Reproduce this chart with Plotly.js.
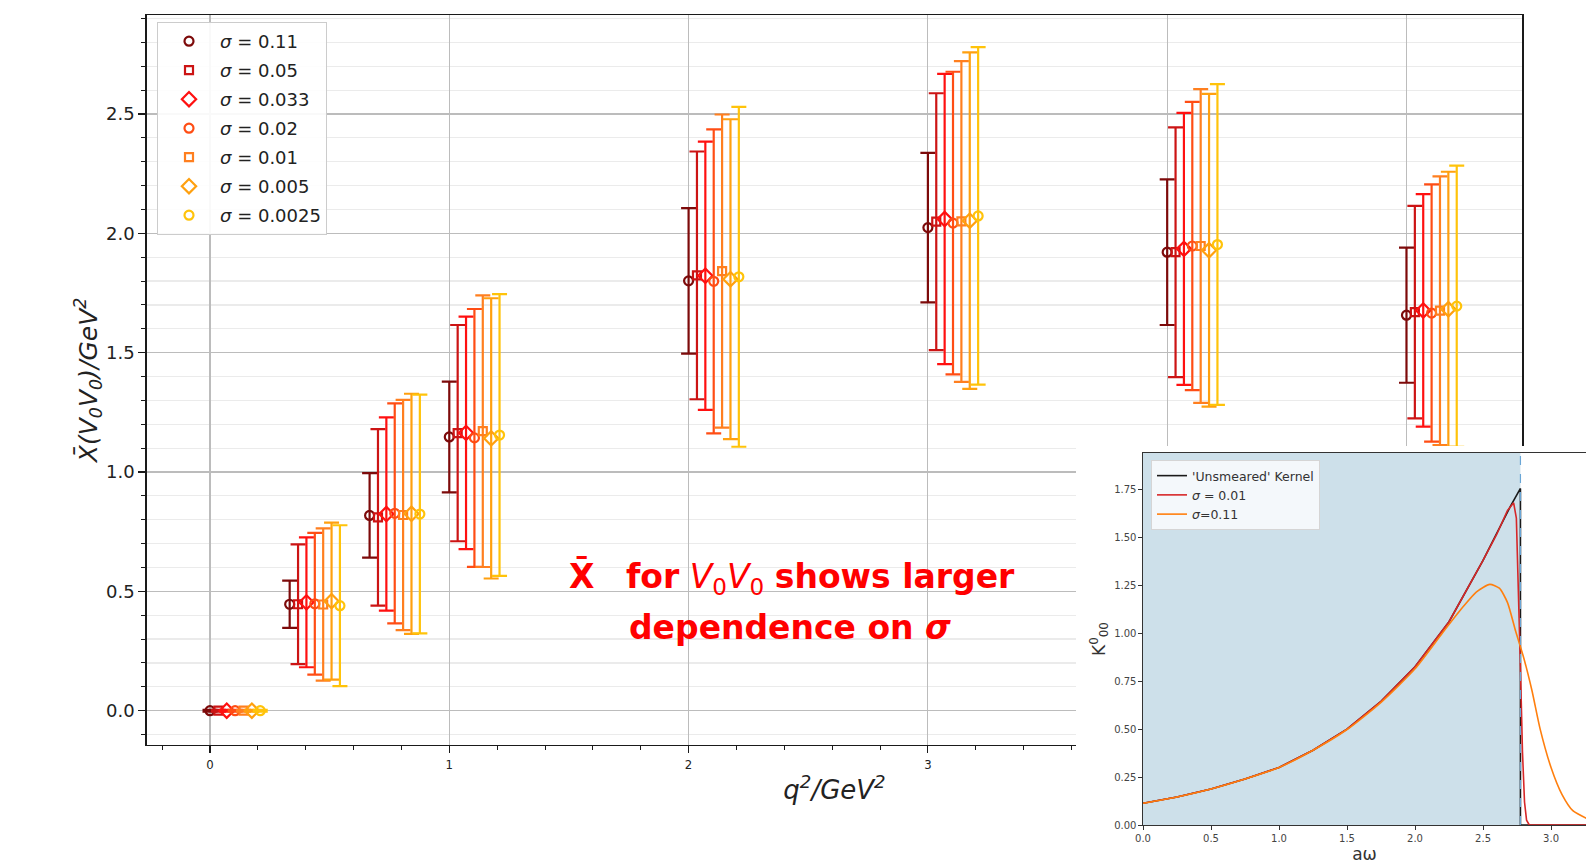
<!DOCTYPE html>
<html><head><meta charset="utf-8">
<script src="https://cdn.plot.ly/plotly-3.0.1.min.js"></script>
<style>html,body{margin:0;padding:0;background:#fff}#chart{width:1586px;height:865px}</style>
</head><body><div id="chart"></div>
<script>
// ---------------- main chart data ----------------
const q2 = [0, 0.333, 0.667, 1, 2, 3, 4, 5];
const sigmaLabels = ['0.11', '0.05', '0.033', '0.02', '0.01', '0.005', '0.0025'];

const xbar_s011   = [0.000, 0.446, 0.818, 1.147, 1.801, 2.024, 1.921, 1.657];
const err_s011    = [0.004, 0.099, 0.177, 0.232, 0.305, 0.313, 0.305, 0.283];
const xbar_s005   = [0.000, 0.446, 0.810, 1.163, 1.824, 2.049, 1.921, 1.670];
const err_s005    = [0.004, 0.251, 0.370, 0.453, 0.519, 0.538, 0.523, 0.445];
const xbar_s0033  = [0.000, 0.454, 0.824, 1.164, 1.822, 2.060, 1.935, 1.677];
const err_s0033   = [0.004, 0.272, 0.405, 0.487, 0.562, 0.608, 0.570, 0.487];
const xbar_s002   = [0.000, 0.448, 0.827, 1.143, 1.799, 2.043, 1.947, 1.666];
const err_s002    = [0.004, 0.297, 0.461, 0.540, 0.637, 0.634, 0.604, 0.539];
const xbar_s001   = [0.000, 0.445, 0.820, 1.171, 1.842, 2.050, 1.947, 1.676];
const err_s001    = [0.004, 0.319, 0.482, 0.569, 0.656, 0.672, 0.657, 0.563];
const xbar_s0005  = [0.000, 0.459, 0.825, 1.141, 1.808, 2.053, 1.929, 1.682];
const err_s0005   = [0.004, 0.329, 0.503, 0.587, 0.670, 0.705, 0.655, 0.576];
const xbar_s00025 = [0.000, 0.440, 0.824, 1.155, 1.818, 2.073, 1.953, 1.695];
const err_s00025  = [0.004, 0.337, 0.500, 0.590, 0.712, 0.707, 0.672, 0.589];

// ---------------- inset (kernel) data ----------------
const kernelCut = 2.775;
const awUnsmeared = [0, 0.25, 0.5, 0.75, 1.0, 1.25, 1.5, 1.75, 2.0, 2.25, 2.5, 2.6, 2.7, 2.775, 2.775, 3.26];
const kUnsmeared  = [0.113, 0.146, 0.188, 0.240, 0.300, 0.390, 0.500, 0.645, 0.825, 1.060, 1.380, 1.520, 1.660, 1.755, 0, 0];
const awS001 = [0, 0.25, 0.5, 0.75, 1.0, 1.25, 1.5, 1.75, 2.0, 2.25, 2.5, 2.6, 2.68, 2.725, 2.745, 2.76, 2.775, 2.79, 2.805, 2.82, 2.84, 3.26];
const kS001  = [0.113, 0.146, 0.188, 0.240, 0.300, 0.390, 0.500, 0.645, 0.825, 1.060, 1.380, 1.515, 1.640, 1.680, 1.600, 1.250, 0.820, 0.380, 0.120, 0.025, 0, 0];
const awS011 = [0, 0.25, 0.5, 0.75, 1.0, 1.25, 1.5, 1.75, 2.0, 2.2, 2.35, 2.45, 2.55, 2.62, 2.68, 2.74, 2.80, 2.86, 2.92, 3.0, 3.08, 3.16, 3.26];
const kS011  = [0.113, 0.146, 0.188, 0.240, 0.300, 0.390, 0.498, 0.640, 0.815, 1.000, 1.135, 1.215, 1.255, 1.235, 1.160, 1.010, 0.870, 0.700, 0.500, 0.300, 0.160, 0.075, 0.035];

// ---------------- styling ----------------
const W = 1586, H = 865;
const px = v => v / W;
const py = v => 1 - v / H;
const colors = ['#7d0a0a', '#cc1414', '#ff1010', '#ff4d14', '#ff7f1f', '#ffa00f', '#ffc30a'];
const symbols = ['circle-open', 'square-open', 'diamond-open', 'circle-open', 'square-open', 'diamond-open', 'circle-open'];
const sizes = [9, 8, 11, 9, 8, 11, 9];
const dodge = 0.035;

const seriesVals = [xbar_s011, xbar_s005, xbar_s0033, xbar_s002, xbar_s001, xbar_s0005, xbar_s00025];
const seriesErrs = [err_s011, err_s005, err_s0033, err_s002, err_s001, err_s0005, err_s00025];

const traces = [];
seriesVals.forEach((vals, i) => {
  traces.push({
    type: 'scatter', mode: 'markers',
    x: q2.map(q => q + i * dodge), y: vals,
    name: '<i>σ</i> = ' + sigmaLabels[i],
    legendgroup: 'g' + i,
    marker: {symbol: symbols[i], size: sizes[i], color: colors[i], line: {color: colors[i], width: 2.2}},
    error_y: {type: 'data', array: seriesErrs[i], visible: true, color: colors[i], thickness: 2.2, width: 7.5},
    xaxis: 'x', yaxis: 'y', hoverinfo: 'skip'
  });
});
// white cover subplot (blank area of the inset picture)
traces.push({type: 'scatter', mode: 'markers', x: [null], y: [null], xaxis: 'x2', yaxis: 'y2', showlegend: false, hoverinfo: 'skip'});
// inset curves
traces.push({type: 'scatter', mode: 'lines', x: awUnsmeared, y: kUnsmeared, name: "'Unsmeared' Kernel",
  line: {color: '#1a1a1a', width: 1.6}, xaxis: 'x3', yaxis: 'y3', legend: 'legend2', hoverinfo: 'skip'});
traces.push({type: 'scatter', mode: 'lines', x: awS001, y: kS001, name: '<i>σ</i> = 0.01',
  line: {color: '#d62728', width: 1.6}, xaxis: 'x3', yaxis: 'y3', legend: 'legend2', hoverinfo: 'skip'});
traces.push({type: 'scatter', mode: 'lines', x: awS011, y: kS011, name: '<i>σ</i>=0.11',
  line: {color: '#ff7f0e', width: 1.6, shape: 'spline', smoothing: 0.6}, xaxis: 'x3', yaxis: 'y3', legend: 'legend2', hoverinfo: 'skip'});

const axisDark = '#1a1a1a';
const layout = {
  width: W, height: H,
  margin: {l: 0, r: 0, t: 0, b: 0},
  paper_bgcolor: '#ffffff', plot_bgcolor: '#ffffff',
  showlegend: true,
  font: {family: 'DejaVu Sans, sans-serif', color: '#222'},
  xaxis: {
    domain: [px(146.7), px(1522.3)], range: [-0.2645, 5.484], anchor: 'y',
    tick0: 0, dtick: 1, tickformat: 'd',
    showgrid: true, gridcolor: '#bcbcbc', gridwidth: 1.2, zeroline: false,
    showline: true, linecolor: axisDark, linewidth: 1.5, mirror: true,
    ticks: 'outside', ticklen: 7, tickwidth: 1.2, tickcolor: axisDark,
    minor: {tick0: 0, dtick: 0.2, ticks: 'outside', ticklen: 4, tickwidth: 1, tickcolor: axisDark, showgrid: false},
    tickfont: {family: 'DejaVu Sans Condensed, DejaVu Sans, sans-serif', size: 13, color: '#222'},
    title: {text: 'q<sup>2</sup>/GeV<sup>2</sup>', font: {family: 'DejaVu Sans, sans-serif', size: 26, style: 'italic', color: '#222'}, standoff: 10}
  },
  yaxis: {
    domain: [py(744.5), py(15.2)], range: [-0.1416, 2.914], anchor: 'x',
    tick0: 0, dtick: 0.5, tickformat: '.1f',
    showgrid: true, gridcolor: '#bcbcbc', gridwidth: 1.2, zeroline: false,
    showline: true, linecolor: axisDark, linewidth: 1.5, mirror: true,
    ticks: 'outside', ticklen: 7, tickwidth: 1.2, tickcolor: axisDark,
    minor: {tick0: 0, dtick: 0.1, ticks: 'outside', ticklen: 4, tickwidth: 1, tickcolor: axisDark, showgrid: true, gridcolor: '#ebebeb', gridwidth: 1.2},
    tickfont: {family: 'DejaVu Sans, sans-serif', size: 18, color: '#222'},
    title: {text: 'X̄(<i>V</i><sub>0</sub><i>V</i><sub>0</sub>)/GeV<sup>2</sup>', font: {family: 'DejaVu Sans, sans-serif', size: 25, style: 'italic', color: '#222'}, standoff: 0}
  },
  xaxis2: {domain: [px(1076), 1], range: [0, 1], anchor: 'y2', visible: true, showgrid: false, zeroline: false, showline: false, showticklabels: false, ticks: ''},
  yaxis2: {domain: [0, py(446)], range: [0, 1], anchor: 'x2', visible: true, showgrid: false, zeroline: false, showline: false, showticklabels: false, ticks: ''},
  xaxis3: {
    domain: [px(1143), 1], range: [0, 3.257], anchor: 'y3',
    tick0: 0, dtick: 0.5, tickformat: '.1f', showgrid: false, zeroline: false,
    showline: true, linecolor: '#333', linewidth: 1.1, mirror: true,
    ticks: 'outside', ticklen: 3.5, tickwidth: 1, tickcolor: '#333',
    tickfont: {family: 'DejaVu Sans, sans-serif', size: 10, color: '#444'},
    title: {text: 'aω', font: {family: 'DejaVu Sans, sans-serif', size: 17, color: '#333'}, standoff: 5}
  },
  yaxis3: {
    domain: [py(825), py(453)], range: [0, 1.94], anchor: 'x3',
    tick0: 0, dtick: 0.25, tickformat: '.2f', showgrid: false, zeroline: false,
    showline: true, linecolor: '#333', linewidth: 1.1, mirror: false,
    ticks: 'outside', ticklen: 3.5, tickwidth: 1, tickcolor: '#333',
    tickfont: {family: 'DejaVu Sans, sans-serif', size: 10, color: '#444'},
    title: {text: 'K<sup>0</sup><sub>00</sub>', font: {family: 'DejaVu Sans, sans-serif', size: 17, color: '#333'}, standoff: 4}
  },
  legend: {
    x: px(157), y: py(22), xanchor: 'left', yanchor: 'top',
    bgcolor: 'rgba(255,255,255,0.9)', bordercolor: '#cccccc', borderwidth: 1,
    font: {family: 'DejaVu Sans, sans-serif', size: 18, color: '#222'},
    tracegroupgap: 2.6, itemwidth: 52
  },
  legend2: {
    x: px(1151), y: py(460), xanchor: 'left', yanchor: 'top',
    bgcolor: 'rgba(255,255,255,0.78)', bordercolor: '#d5d5d5', borderwidth: 1,
    font: {family: 'DejaVu Sans, sans-serif', size: 12.5, color: '#333'},
    itemwidth: 30
  },
  shapes: [
    {type: 'rect', xref: 'x3', yref: 'y3', x0: 0, x1: kernelCut, y0: 0, y1: 1.94, fillcolor: '#cde0ea', line: {width: 0}, layer: 'below'},
    {type: 'line', xref: 'x3', yref: 'y3', x0: kernelCut, x1: kernelCut, y0: 0, y1: 1.94, line: {color: '#6aa6d6', width: 1.2, dash: 'dash'}, layer: 'above'}
  ],
  annotations: [
    {xref: 'paper', yref: 'paper', x: px(792), y: py(577), xanchor: 'center', yanchor: 'middle', showarrow: false,
     text: '<b>X̄</b>\u00a0\u00a0 <b>for</b> <i>V</i><sub>0</sub><i>V</i><sub>0</sub> <b>shows larger</b>',
     font: {family: 'DejaVu Sans, sans-serif', size: 33, color: '#ff0000'}},
    {xref: 'paper', yref: 'paper', x: px(790), y: py(627), xanchor: 'center', yanchor: 'middle', showarrow: false,
     text: '<b>dependence on <i>σ</i></b>',
     font: {family: 'DejaVu Sans, sans-serif', size: 33, color: '#ff0000'}}
  ]
};

Plotly.newPlot('chart', traces, layout, {staticPlot: true, displayModeBar: false});
</script>
</body></html>
